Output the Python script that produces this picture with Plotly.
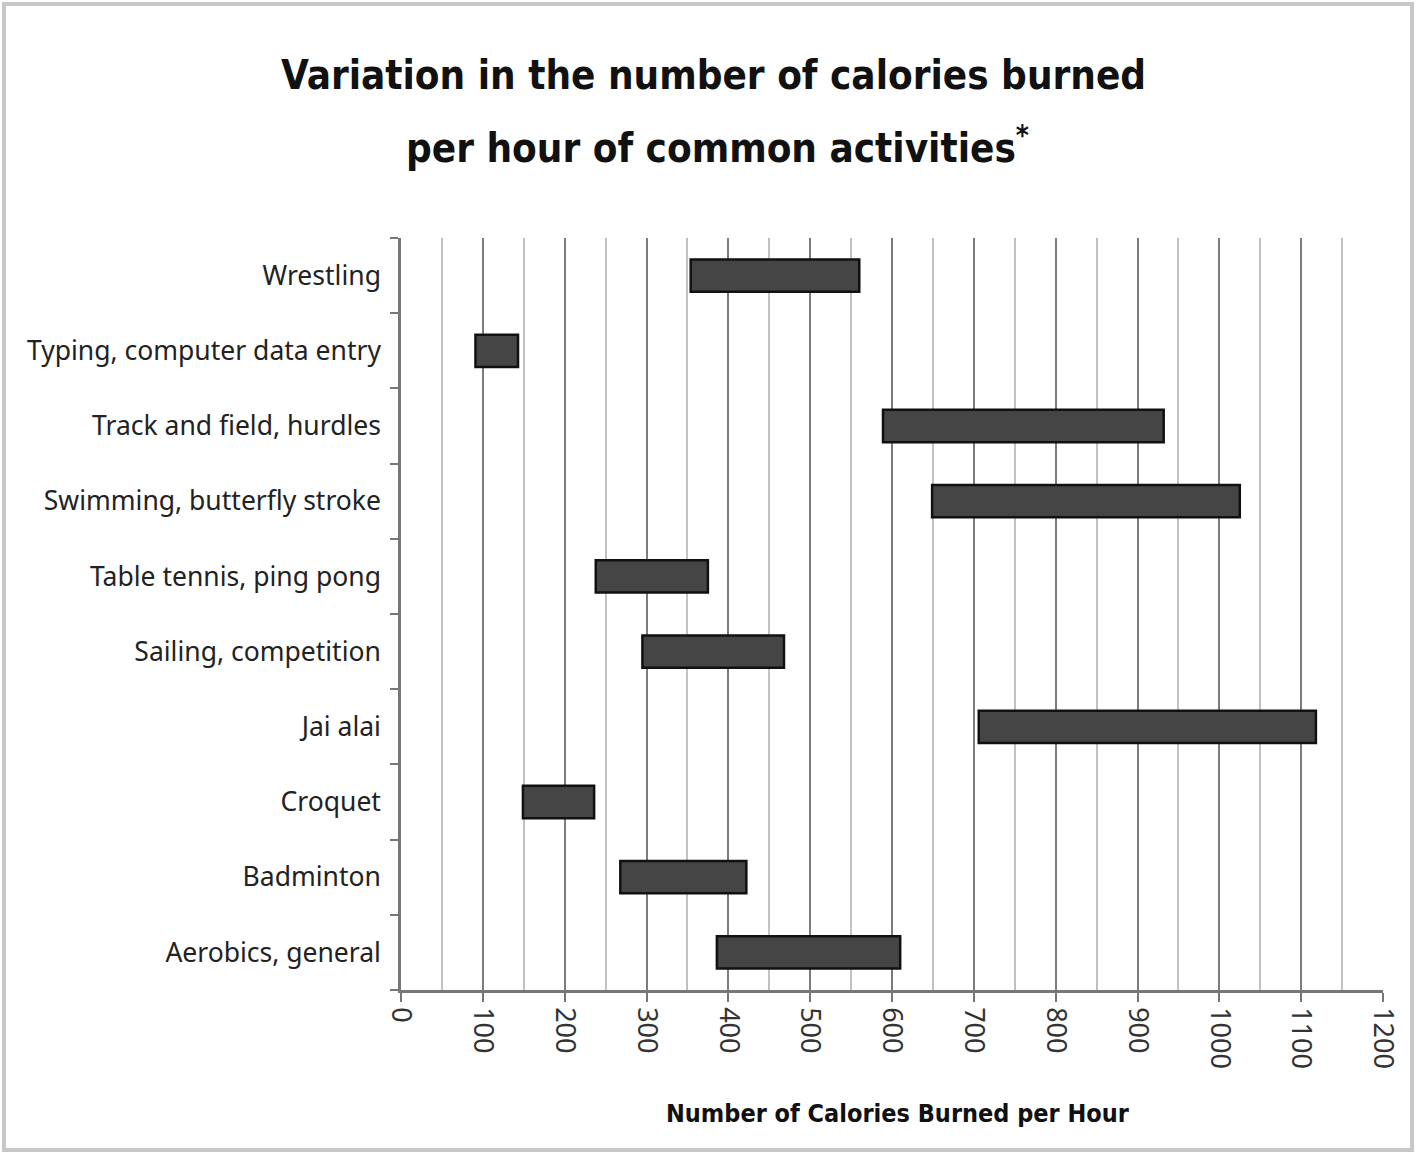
import plotly.graph_objects as go

# Activities, top to bottom
activities = [
    "Wrestling",
    "Typing, computer data entry",
    "Track and field, hurdles",
    "Swimming, butterfly stroke",
    "Table tennis, ping pong",
    "Sailing, competition",
    "Jai alai",
    "Croquet",
    "Badminton",
    "Aerobics, general",
]
# Calories burned per hour: low and high ends of each range
cal_low = [354, 91, 589, 649, 238, 295, 706, 149, 268, 386]
cal_high = [560, 143, 932, 1025, 375, 468, 1118, 236, 422, 610]

x_ticks = list(range(0, 1201, 100))

title_lines = ["Variation in the number of calories burned",
               "per hour of common activities<sup>*</sup>"]
x_title = "Number of Calories Burned per Hour"

COND = "DejaVu Sans Condensed, Liberation Sans Narrow, Arial Narrow, sans-serif"

spans = [h - l for l, h in zip(cal_low, cal_high)]

fig = go.Figure(
    go.Bar(
        y=activities,
        x=spans,
        base=cal_low,
        orientation="h",
        width=0.43,
        marker=dict(color="#454545", line=dict(color="#111111", width=2.5)),
        hovertemplate="%{y}: %{base}–%{x}<extra></extra>",
    )
)

fig.update_layout(
    width=1417,
    height=1154,
    margin=dict(l=401, r=34, t=238, b=164),
    paper_bgcolor="white",
    plot_bgcolor="white",
    showlegend=False,
)

# Two-line heading
for text, ypos, xc in zip(title_lines, [1.2168, 1.1237], [713, 717]):
    fig.add_annotation(
        text=f"<b>{text}</b>",
        xref="paper", yref="paper",
        x=(xc - 401) / 982, y=ypos,
        xanchor="center", yanchor="middle",
        showarrow=False,
        font=dict(family=COND, size=40, color="#111111"),
    )

# Horizontal axis caption
fig.add_annotation(
    text=f"<b>{x_title}</b>",
    xref="paper", yref="paper",
    x=(898 - 401) / 982, y=(990 - 1113) / 752,
    xanchor="center", yanchor="middle",
    showarrow=False,
    font=dict(family=COND, size=25, color="#111111"),
)

fig.update_xaxes(
    range=[0, 1200],
    tickvals=x_ticks,
    ticktext=[str(v) for v in x_ticks],
    tickangle=90,
    ticks="outside",
    ticklen=9,
    tickwidth=2,
    tickcolor="#777777",
    showline=True,
    linecolor="#777777",
    linewidth=2.5,
    showgrid=True,
    gridcolor="#7c7c7c",
    gridwidth=2,
    minor=dict(dtick=50, tick0=0, showgrid=True, gridcolor="#c2c2c2", gridwidth=2, ticks=""),
    tickfont=dict(family="Noto Sans", size=27, color="#333333"),
    zeroline=False,
    fixedrange=True,
)

fig.update_yaxes(
    categoryorder="array",
    categoryarray=list(reversed(activities)),
    autorange=False,
    range=[-0.5, len(activities) - 0.5],
    tickson="boundaries",
    ticks="outside",
    ticklen=8,
    tickwidth=2,
    tickcolor="#777777",
    showline=True,
    linecolor="#777777",
    linewidth=2.5,
    showgrid=False,
    ticklabelstandoff=12,
    tickfont=dict(family="Noto Sans", size=26.5, color="#222222"),
    fixedrange=True,
)

# Light frame around the whole graphic
fig.add_shape(
    type="rect",
    xref="paper",
    yref="paper",
    x0=(4 - 401) / 982,
    x1=(1412 - 401) / 982,
    y0=-(1150 - 990) / 752,
    y1=1 + (238 - 4) / 752,
    line=dict(color="#c8c8c8", width=4),
    fillcolor="rgba(0,0,0,0)",
    layer="below",
)

fig.write_html("out.html")
